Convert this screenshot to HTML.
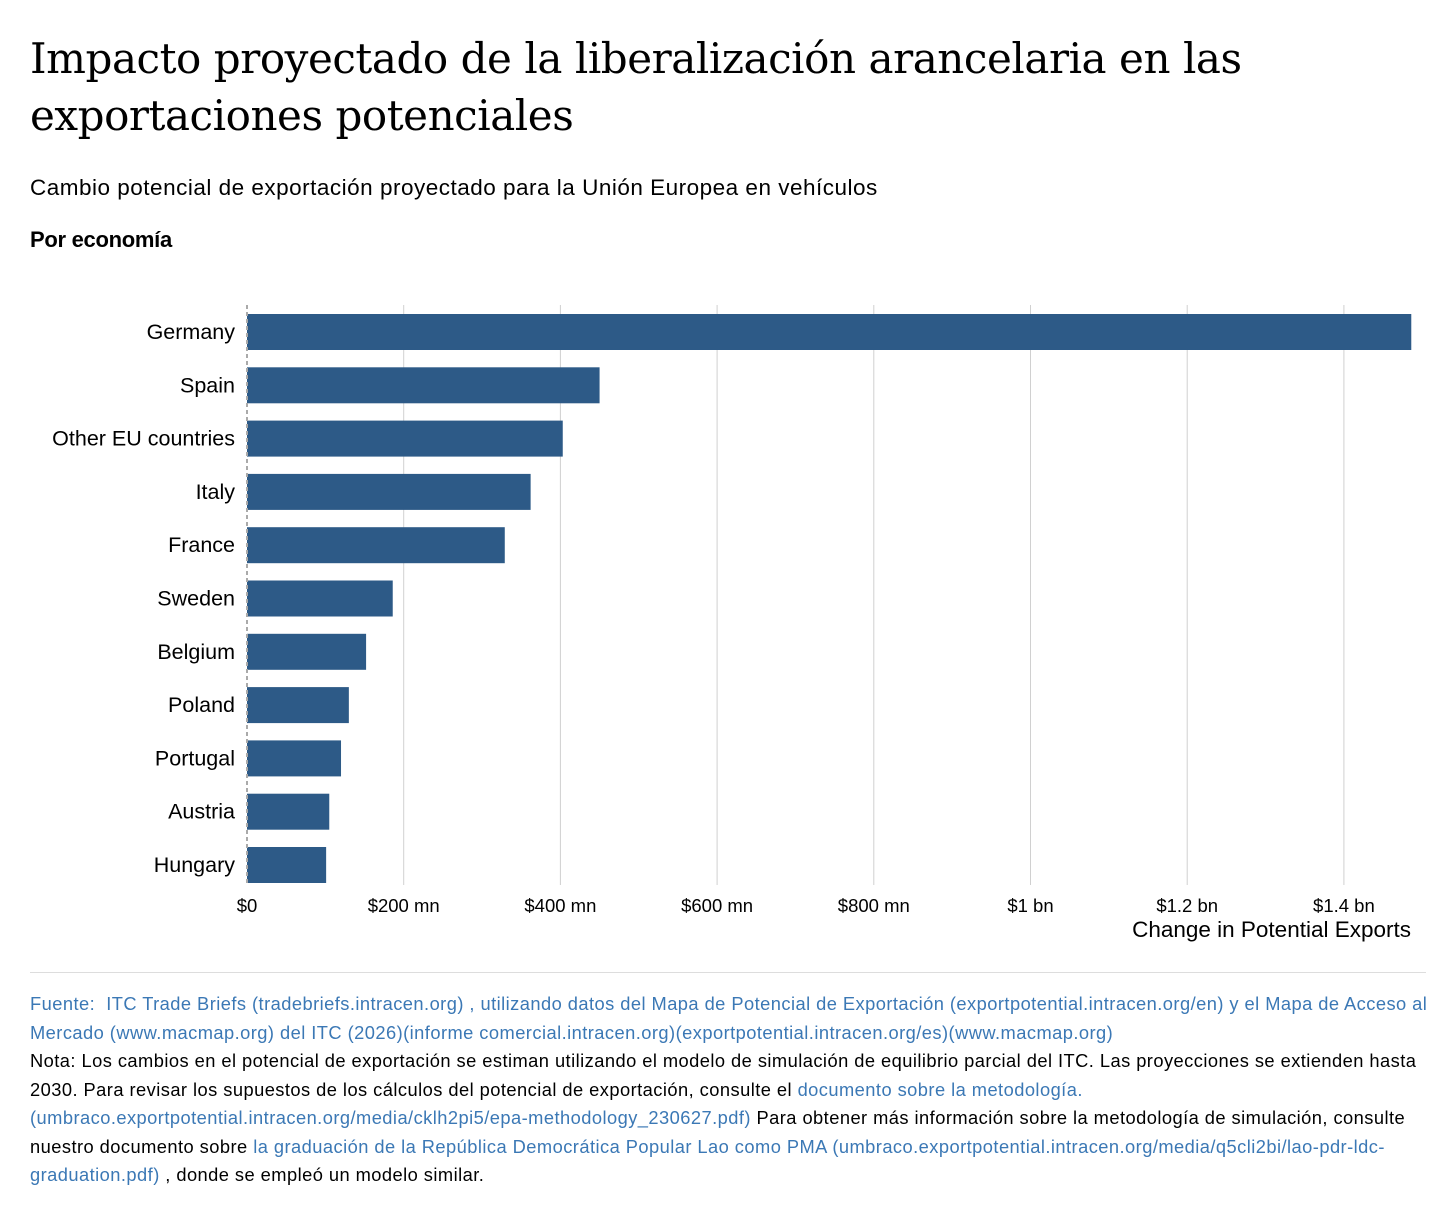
<!DOCTYPE html>
<html><head><meta charset="utf-8"><style>
body{margin:0;background:#fff;width:1456px;height:1224px;overflow:hidden;font-family:"Liberation Sans",sans-serif;color:#000}
h1{position:absolute;left:30px;top:30px;margin:0;font-family:"DejaVu Serif","Liberation Serif",serif;font-weight:normal;font-size:42px;line-height:57px;letter-spacing:-0.45px;width:1400px}
.sub{position:absolute;left:30px;top:175px;font-size:22.5px;letter-spacing:0.5px}
.by{position:absolute;left:30px;top:227px;font-size:22px;font-weight:bold;letter-spacing:-0.3px}
.foot{position:absolute;left:30px;top:990px;width:1402px;font-size:18.3px;line-height:28.5px;letter-spacing:0.45px}
.foot a{color:#3b78b5;text-decoration:none}
hr{position:absolute;left:30px;top:972px;width:1396px;margin:0;border:0;border-top:1px solid #ddd}
</style></head><body>
<h1>Impacto proyectado de la liberalización arancelaria en las exportaciones potenciales</h1>
<div class="sub">Cambio potencial de exportación proyectado para la Unión Europea en vehículos</div>
<div class="by">Por economía</div>
<svg id="chart" style="position:absolute;left:0;top:0" width="1456" height="960"></svg>
<hr>
<div class="foot"><a>Fuente:&nbsp; ITC Trade Briefs (tradebriefs.intracen.org) , utilizando datos del Mapa de Potencial de Exportación (exportpotential.intracen.org/en) y el Mapa de Acceso al Mercado (www.macmap.org) del ITC (2026)(informe comercial.intracen.org)(exportpotential.intracen.org/es)(www.macmap.org)</a><br>Nota: Los cambios en el potencial de exportación se estiman utilizando el modelo de simulación de equilibrio parcial del ITC. Las proyecciones se extienden hasta 2030. Para revisar los supuestos de los cálculos del potencial de exportación, consulte el <a>documento sobre la metodología.(umbraco.exportpotential.intracen.org/media/cklh2pi5/epa-methodology_230627.pdf)</a> Para obtener más información sobre la metodología de simulación, consulte nuestro documento sobre <a>la graduación de la República Democrática Popular Lao como PMA (umbraco.exportpotential.intracen.org/media/q5cli2bi/lao-pdr-ldc-graduation.pdf)</a> , donde se empleó un modelo similar.</div>
<script>
const categories=["Germany","Spain","Other EU countries","Italy","France","Sweden","Belgium","Poland","Portugal","Austria","Hungary"];
const values=[1486,450,403,362,329,186,152,130,120,105,101];
const tickValues=[0,200,400,600,800,1000,1200,1400];
const tickLabels=["$0","$200 mn","$400 mn","$600 mn","$800 mn","$1 bn","$1.2 bn","$1.4 bn"];
const svg=document.getElementById('chart');const NS='http://www.w3.org/2000/svg';
const x0=247,pxPer=0.7835;const xs=v=>x0+v*pxPer;
const y0=332,step=53.3;const ys=i=>y0+i*step;
function el(t,a,txt){const e=document.createElementNS(NS,t);for(const k in a)e.setAttribute(k,a[k]);if(txt!=null)e.textContent=txt;svg.appendChild(e);return e;}
tickValues.forEach((v,i)=>{
 if(v>0){const g=el('line',{x1:xs(v),x2:xs(v),y1:305,y2:885,stroke:'#d0d0d0','stroke-width':1});
 
 }
 const t=el('text',{x:xs(v),y:912,'text-anchor':'middle','font-size':18.5},tickLabels[i]);
 
 
});
categories.forEach((c,i)=>{
 const r=el('rect',{x:x0,y:ys(i)-18,width:xs(values[i])-x0,height:36,fill:'#2d5a87'});
 
 
 const t=el('text',{x:235,y:ys(i)+7,'text-anchor':'end','font-size':21.5},c);
 
 
});
const ax=el('line',{x1:x0,x2:x0,y1:305,y2:885,stroke:'#aaa','stroke-width':2,'stroke-dasharray':'4,3'});


const at=el('text',{x:1411,y:937,'text-anchor':'end','font-size':22.5},'Change in Potential Exports');


</script>
</body></html>
